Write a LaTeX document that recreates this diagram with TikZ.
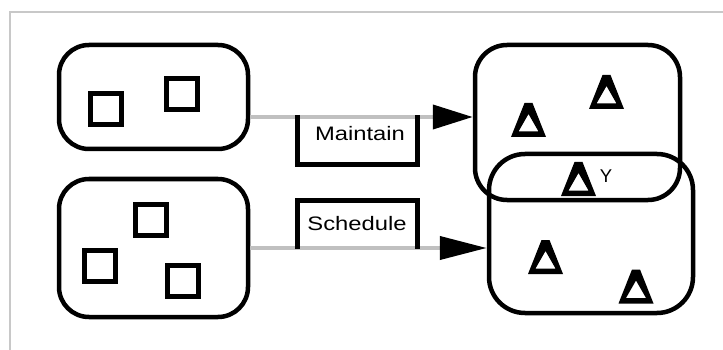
\documentclass[tikz,border=0pt]{standalone}
\usepackage{fontspec}
\setmainfont{Liberation Sans}
\newfontfamily\labelfont[FakeStretch=1.22]{Liberation Sans}
\usetikzlibrary{arrows.meta}
\definecolor{framegray}{HTML}{C8C8C8}
\definecolor{linkgray}{HTML}{C0C0C0}
\begin{document}
\begin{tikzpicture}[x=1pt,y=-1pt,
  group/.style={draw, line width=4.5pt, rounded corners=30pt, inner sep=0pt},
  item/.style={draw, line width=4.5pt, minimum size=31pt, inner sep=0pt},
  % thick open delta with a blunt apex
  delta/.pic={\fill[even odd rule]
      (-17.5,17) -- (17.5,17) -- (4,-17) -- (-4,-17) -- cycle
      (-10,11.5) -- (10,11.5) -- (0,-6) -- cycle;},
  link/.style={draw=linkgray, line width=4pt},
  bracket/.style={line width=5pt},
  slot/.style={inner sep=0pt, outer sep=0pt, minimum width=120pt},
  lbl/.style={font=\labelfont\fontsize{19.5}{20}\selectfont, inner sep=0pt, anchor=base}
]
\useasboundingbox (0,0) rectangle (723,350);

% frame edges
\draw[framegray, line width=1.5pt] (740,12) -- (10,12) -- (10,370);

% source groups
\node[group, minimum width=189pt, minimum height=104pt] (lt) at (153.5,97) {};
\node[group, minimum width=189pt, minimum height=138pt] (lb) at (153.5,248) {};

% target groups (overlapping)
\node[group, rounded corners=32pt, minimum width=205pt, minimum height=155pt] (rt) at (577.5,122.5) {};
\node[group, rounded corners=36pt, minimum width=204pt, minimum height=159pt] (rb) at (591,233.5) {};

% square items
\node[item] (s1) at (106,109) {};
\node[item] (s2) at (182,94) {};
\node[item] (s3) at (151,220) {};
\node[item] (s4) at (100,266) {};
\node[item] (s5) at (183,281) {};

% triangle items
\pic (t1) at (528.5,120) {delta};
\pic (t2) at (606.5,92) {delta};
\pic (tY) at (578.5,179) {delta};
\pic (t4) at (545.5,257) {delta};
\pic (t5) at (636,286.5) {delta};
\node[font=\fontsize{18.5}{19}\selectfont, inner sep=0pt, anchor=base] (ylabel) at (606,182.5) {Y};

% connectors
\coordinate (maintainrow) at (0,117);
\coordinate (schedulerow) at (0,248);
\draw[link, -{Triangle[length=40pt, width=24pt, color=black, fill=black]}]
  (lt.east |- maintainrow) -- (rt.west |- maintainrow);
\draw[link, -{Triangle[length=47pt, width=23pt, color=black, fill=black]}]
  (lb.east |- schedulerow) -- (rb.west |- schedulerow);

% operation labels
\node[slot, minimum height=50pt] (mbox) at (357,140) {};
\draw[bracket] (mbox.north west) |- (mbox.south east) -- (mbox.north east);
\node[lbl] (mtext) at (360,141) {Maintain};

\node[slot, minimum height=49pt] (sbox) at (357,224.5) {};
\draw[bracket] (sbox.south west) |- (sbox.north east) -- (sbox.south east);
\node[lbl] (stext) at (357,230) {Schedule};
\end{tikzpicture}
\end{document}
